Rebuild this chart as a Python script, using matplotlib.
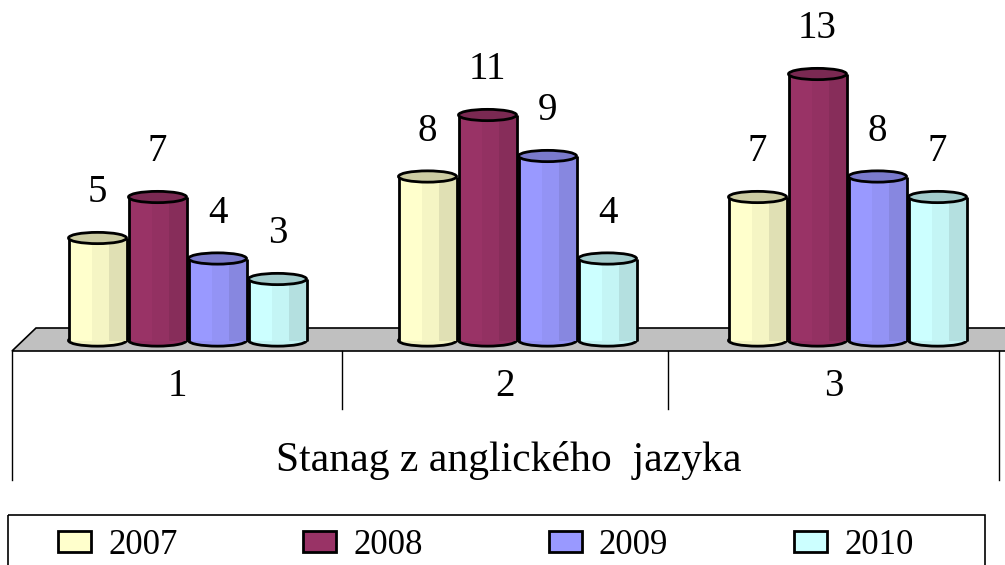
import numpy as np
import matplotlib.pyplot as plt
from matplotlib.patches import Ellipse, Polygon, Rectangle
from matplotlib.colors import to_rgb

# data
categories = ["1", "2", "3"]
years = ["2007", "2008", "2009", "2010"]
v2007 = [5, 8, 7]
v2008 = [7, 11, 13]
v2009 = [4, 9, 8]
v2010 = [3, 4, 7]
series = [v2007, v2008, v2009, v2010]
colors = ["#FFFFCC", "#993366", "#9999FF", "#CCFFFF"]
axis_title = "Stanag z anglického  jazyka"

plt.rcParams['font.family'] = ['Liberation Serif', 'DejaVu Serif']


def shade(c, f):
    # darken a colour by factor f
    return tuple(np.array(to_rgb(c)) * (1 - f))


W, H = 1005, 565
fig = plt.figure(figsize=(W / 100, H / 100), dpi=100)

# background axes in pixel units: floor, box lines, legend frame
bg = fig.add_axes([0, 0, 1, 1])
bg.set_xlim(0, W)
bg.set_ylim(H, 0)
bg.axis("off")
bg.add_patch(Polygon([(36, 328), (1030, 328), (1006, 351), (12, 351)],
                     closed=True, fc="#C0C0C0", ec="black", lw=1.2))
bg.plot([12, 12], [351, 480], color="black", lw=1)
bg.plot([999, 999], [351, 480], color="black", lw=1)
cells = [12, 342, 668, 999]
for xc in cells[1:-1]:
    bg.plot([xc, xc], [351, 409], color="black", lw=1)
for i, cat in enumerate(categories):
    bg.text((cells[i] + cells[i + 1]) / 2, 386, cat, ha="center", va="center", fontsize=28)
bg.text(509, 460, axis_title, ha="center", va="center", fontsize=30)
bg.add_patch(Rectangle((8, 515), 977, 60, fill=False, ec="black", lw=1.2))

# main axes: x in category units, y in value units
ax = fig.add_axes([0, 0, 1, 1])
ax.patch.set_visible(False)
ax.axis("off")
gc, gs = 187.5, 330.0
ax.set_xlim(-gc / gs, (W - gc) / gs)
zero, unit = 340.5, 20.5
ax.set_ylim((zero - H) / unit, zero / unit)

x = np.arange(len(categories))
step = 60 / gs
w = 58 / gs
capw = 0.55
for k, (vals, c) in enumerate(zip(series, colors)):
    xs = x + (k - 1.5) * step
    for xi, v in zip(xs, vals):
        ax.add_patch(Ellipse((xi, 0), w, capw, fc=shade(c, 0.05), ec="black", lw=2, zorder=2))
    ax.bar(xs, vals, w, color=c, edgecolor="none", zorder=3)
    ax.bar(xs + w * 0.05, vals, w * 0.3, color=shade(c, 0.04), edgecolor="none", zorder=3)
    ax.bar(xs + w * 0.35, vals, w * 0.3, color=shade(c, 0.12), edgecolor="none", zorder=3)
    ax.vlines(xs - w / 2, 0, vals, color="black", lw=2, zorder=4)
    ax.vlines(xs + w / 2, 0, vals, color="black", lw=2, zorder=4)
    for xi, v in zip(xs, vals):
        ax.add_patch(Ellipse((xi, v), w, capw, fc=shade(c, 0.2), ec="black", lw=2, zorder=5))
        ax.text(xi, v + 2.2, str(v), ha="center", va="center", fontsize=28, zorder=6)

handles = [Rectangle((0, 0), 1, 1, fc=c, ec="black", lw=2) for c in colors]
ax.legend(handles, years, loc="center left", bbox_to_anchor=(58 / W, 1 - 545 / H),
          bbox_transform=fig.transFigure, ncol=4, frameon=False, fontsize=25,
          handlelength=0.95, handleheight=0.55, handletextpad=0.49,
          columnspacing=3.63, borderaxespad=0, borderpad=0)

fig.savefig("out.png", dpi=100)
